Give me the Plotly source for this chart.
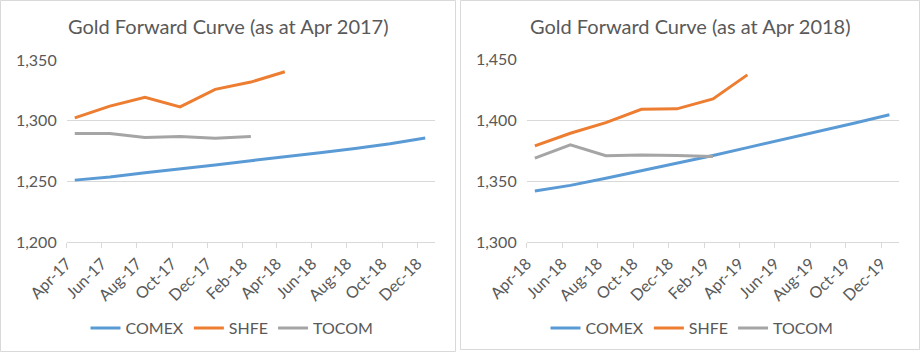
import plotly.graph_objects as go

# ---- data ----
months_2017 = ["2017-04-15", "2017-06-15", "2017-08-15", "2017-10-15", "2017-12-15", "2018-02-15",
               "2018-04-15", "2018-06-15", "2018-08-15", "2018-10-15", "2018-12-15"]
comex_2017 = [1251, 1253.5, 1257, 1260, 1263.5, 1267, 1270, 1273.5, 1277, 1281, 1285.8]
shfe_2017 = [1302.3, 1312, 1319.2, 1311.4, 1325.8, 1331.8, 1340.3]
tocom_2017 = [1289.4, 1289.4, 1286.1, 1287, 1285.5, 1287]

months_2018 = ["2018-04-15", "2018-06-15", "2018-08-15", "2018-10-15", "2018-12-15", "2019-02-15",
               "2019-04-15", "2019-06-15", "2019-08-15", "2019-10-15", "2019-12-15"]
comex_2018 = [1341.8, 1346.5, 1352.3, 1358.3, 1364.5, 1371, 1377.5, 1384, 1390.5, 1397.5, 1404.5]
shfe_2018 = [1378.9, 1389.3, 1398, 1409, 1409.3, 1417.5, 1437.2]
tocom_2018 = [1368.8, 1379.7, 1370.9, 1371.5, 1371, 1370.1]

series_names = ["COMEX", "SHFE", "TOCOM"]
colors = ["#5B9BD5", "#ED7D31", "#A5A5A5"]
titles = ["Gold Forward Curve (as at Apr 2017)", "Gold Forward Curve (as at Apr 2018)"]

W, H = 920, 352
FONT = "Lato"
TXT = "#595959"
GRID = "#D9D9D9"

fig = go.Figure()

panels = [
    dict(months=months_2017, vals=[comex_2017, shfe_2017, tocom_2017], xr=["2017-04-01", "2019-01-01"],
         yr=[1200, 1350], xa="x", ya="y", leg="legend"),
    dict(months=months_2018, vals=[comex_2018, shfe_2018, tocom_2018], xr=["2018-04-01", "2020-01-01"],
         yr=[1300, 1450], xa="x2", ya="y2", leg="legend2"),
]

for p in panels:
    for name, col, v in zip(series_names, colors, p["vals"]):
        fig.add_trace(go.Scatter(x=p["months"][:len(v)], y=v, mode="lines", name=name,
                                 line=dict(color=col, width=3), xaxis=p["xa"], yaxis=p["ya"],
                                 legend=p["leg"]))

def px_x(v):
    return v / W

def px_y(v):
    return 1 - v / H

xdoms = [[px_x(66.7), px_x(435)], [px_x(526.7), px_x(899.3)]]
ydoms = [[px_y(242), px_y(60)], [px_y(242), px_y(59.3)]]

for i, p in enumerate(panels):
    sfx = "" if i == 0 else "2"
    fig.layout["xaxis" + sfx] = dict(
        domain=xdoms[i], type="date", range=p["xr"], tick0=p["xr"][0], dtick="M2",
        tickformat="%b-%y", tickangle=-45, showgrid=False, showline=True, linecolor=GRID,
        linewidth=1, ticks="outside", ticklen=5, tickcolor=GRID, anchor="y" + sfx,
        tickfont=dict(family=FONT, size=16, color=TXT), fixedrange=True, automargin=False,
    )
    fig.layout["yaxis" + sfx] = dict(
        domain=ydoms[i], range=p["yr"], dtick=50, tickformat=",", showgrid=True, gridcolor=GRID,
        gridwidth=1, zeroline=False, showline=False, anchor="x" + sfx, ticks="",
        ticklabelstandoff=9,
        tickfont=dict(family=FONT, size=16, color=TXT), fixedrange=True, automargin=False,
    )

fig.update_layout(
    width=W, height=H, margin=dict(l=0, r=0, t=0, b=0, autoexpand=False),
    paper_bgcolor="white", plot_bgcolor="white",
    legend=dict(orientation="h", x=px_x(232), xanchor="center", y=px_y(328), yanchor="middle",
                font=dict(family=FONT, size=16, color=TXT), bgcolor="rgba(0,0,0,0)"),
    legend2=dict(orientation="h", x=px_x(692), xanchor="center", y=px_y(328), yanchor="middle",
                 font=dict(family=FONT, size=16, color=TXT), bgcolor="rgba(0,0,0,0)"),
    shapes=[
        dict(type="rect", xref="paper", yref="paper", x0=px_x(0.5), x1=px_x(455.5), y0=px_y(351.5),
             y1=px_y(0.5), line=dict(color=GRID, width=1)),
        dict(type="rect", xref="paper", yref="paper", x0=px_x(460.5), x1=px_x(919.5), y0=px_y(349.5),
             y1=px_y(0.5), line=dict(color=GRID, width=1)),
    ],
    annotations=[
        dict(text=titles[0], xref="paper", yref="paper", x=px_x(228), y=px_y(26), xanchor="center",
             yanchor="middle", showarrow=False, font=dict(family=FONT, size=20, color=TXT)),
        dict(text=titles[1], xref="paper", yref="paper", x=px_x(690), y=px_y(26), xanchor="center",
             yanchor="middle", showarrow=False, font=dict(family=FONT, size=20, color=TXT)),
    ],
)

fig.write_html("out.html")
